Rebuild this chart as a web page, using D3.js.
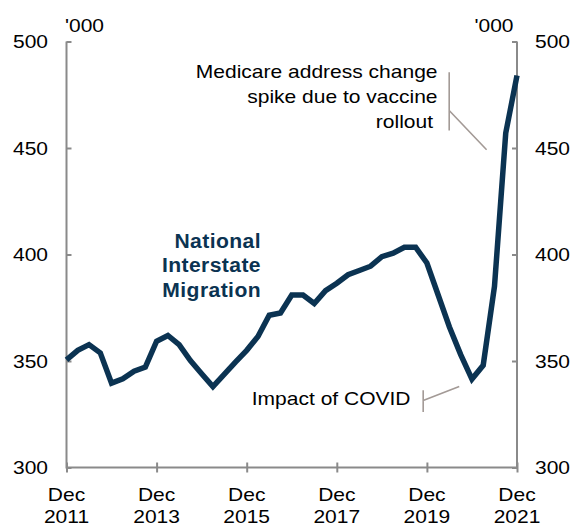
<!DOCTYPE html>
<html>
<head>
<meta charset="utf-8">
<script src="https://cdn.jsdelivr.net/npm/d3@7"></script>
<style>
  html, body { margin: 0; padding: 0; background: #fff; }
  svg { display: block; }
  text { font-family: "Liberation Sans", Arial, sans-serif; }
</style>
</head>
<body>
<div id="viz"></div>
<script>
// quarterly, Dec 2011 .. Dec 2021, '000 people (rolling annual)
var migration = [
  350.5, 355, 357.7, 353.8, 339.6, 341.6, 345.2, 347.1, 359.3, 362,
  357.7, 350.2, 344, 338, 343.7, 349.5, 355, 361.5, 371.5, 372.5,
  381, 381, 377, 383, 386.5, 390.5, 392.5, 394.5, 399, 400.6,
  403.4, 403.4, 396, 381, 366, 353, 341.5, 348, 385, 457, 484
];
var tickIdx = [0, 8, 16, 24, 32, 40];
var tickMonth = ['Dec', 'Dec', 'Dec', 'Dec', 'Dec', 'Dec'];
var tickYear = ['2011', '2013', '2015', '2017', '2019', '2021'];
var yTicks = [300, 350, 400, 450, 500];
var seriesName = ['National', 'Interstate', 'Migration'];
var medicareNote = ['Medicare address change', 'spike due to vaccine', 'rollout'];
var covidNote = ['Impact of COVID'];

var width = 575,
    height = 527,
    plotLeft = 66.5,
    plotRight = 517,
    plotTop = 41.5,
    plotBottom = 467.5,
    navy = '#0b3352',
    axisGrey = '#8a8a8a',
    noteGrey = '#a39a96',
    stretch = 1.13;

var svg = d3.select('#viz').append('svg')
  .attr('width', width)
  .attr('height', height);

var xScale = d3.scaleLinear()
  .domain([0, migration.length - 1])
  .range([plotLeft, plotRight]);

var yScale = d3.scaleLinear()
  .domain([300, 500])
  .range([plotBottom, plotTop]);

// text that is a bit wider than the font, like the original
function label(g, x, y, txt, anchor, size) {
  return g.append('text')
    .attr('transform', 'translate(' + x + ',' + y + ') scale(' + stretch + ',1)')
    .attr('text-anchor', anchor)
    .style('font-size', (size || 18.6) + 'px')
    .attr('fill', '#000')
    .text(txt);
}

// axes
var leftAxis = svg.append('g')
  .attr('transform', 'translate(' + plotLeft + ',0)')
  .call(d3.axisRight(yScale).tickValues(yTicks).tickSize(5).tickFormat(''));
var rightAxis = svg.append('g')
  .attr('transform', 'translate(' + plotRight + ',0)')
  .call(d3.axisLeft(yScale).tickValues(yTicks).tickSize(5).tickFormat(''));
var bottomAxis = svg.append('g')
  .attr('transform', 'translate(0,' + plotBottom + ')')
  .call(d3.axisBottom(xScale).tickValues(tickIdx).tickSize(5).tickFormat(''));

bottomAxis.selectAll('.tick line').attr('y1', -5);

[leftAxis, rightAxis, bottomAxis].forEach(function(a) {
  a.select('.domain').remove();
  a.selectAll('.tick line')
    .attr('stroke', axisGrey)
    .attr('stroke-width', 2);
});

svg.append('path')
  .attr('d', 'M' + plotLeft + ',' + plotTop + 'V' + plotBottom + 'H' + plotRight + 'V' + plotTop)
  .attr('fill', 'none')
  .attr('stroke', axisGrey)
  .attr('stroke-width', 2);

var labels = svg.append('g');

yTicks.forEach(function(v) {
  label(labels, plotLeft - 18.5, yScale(v) + 6.7, v, 'end');
  label(labels, plotRight + 18, yScale(v) + 6.7, v, 'start');
});
label(labels, plotLeft - 1.5, 32.3, "'000", 'start');
label(labels, plotRight - 3.5, 32.3, "'000", 'end');

tickIdx.forEach(function(d, i) {
  label(labels, xScale(d), 500.5, tickMonth[i], 'middle');
  label(labels, xScale(d), 523, tickYear[i], 'middle');
});

// the series
var line = d3.line()
  .x(function(d, i) { return xScale(i); })
  .y(function(d) { return yScale(d); });

svg.append('path')
  .datum(migration)
  .attr('d', line)
  .attr('fill', 'none')
  .attr('stroke', navy)
  .attr('stroke-width', 5.5)
  .attr('stroke-linejoin', 'miter')
  .attr('stroke-linecap', 'butt');

seriesName.forEach(function(t, i) {
  svg.append('text')
    .attr('transform', 'translate(261,' + (248 + i * 24.4) + ') scale(1.03,1)')
    .attr('text-anchor', 'end')
    .style('font-size', '20.5px')
    .style('font-weight', 'bold')
    .style('letter-spacing', '0.4px')
    .attr('fill', navy)
    .text(t);
});

// annotations
medicareNote.forEach(function(t, i) {
  label(labels, i === 2 ? 433 : 437.5, 78.3 + i * 25, t, 'end');
});
covidNote.forEach(function(t) {
  label(labels, 410.5, 405, t, 'end');
});

var notes = svg.append('g')
  .attr('fill', 'none')
  .attr('stroke', noteGrey)
  .attr('stroke-width', 1.6);

notes.append('path')
  .attr('d', 'M' + xScale(33.98) + ',' + yScale(485.6) + 'V' + yScale(458.2) +
             'M' + xScale(33.98) + ',' + yScale(467.6) + 'L' + xScale(37.3) + ',' + yScale(449.2));
notes.append('path')
  .attr('d', 'M' + xScale(31.67) + ',' + yScale(336.3) + 'V' + yScale(326) +
             'M' + xScale(31.67) + ',' + yScale(331.4) + 'L' + xScale(34.87) + ',' + yScale(338));
</script>
</body>
</html>
